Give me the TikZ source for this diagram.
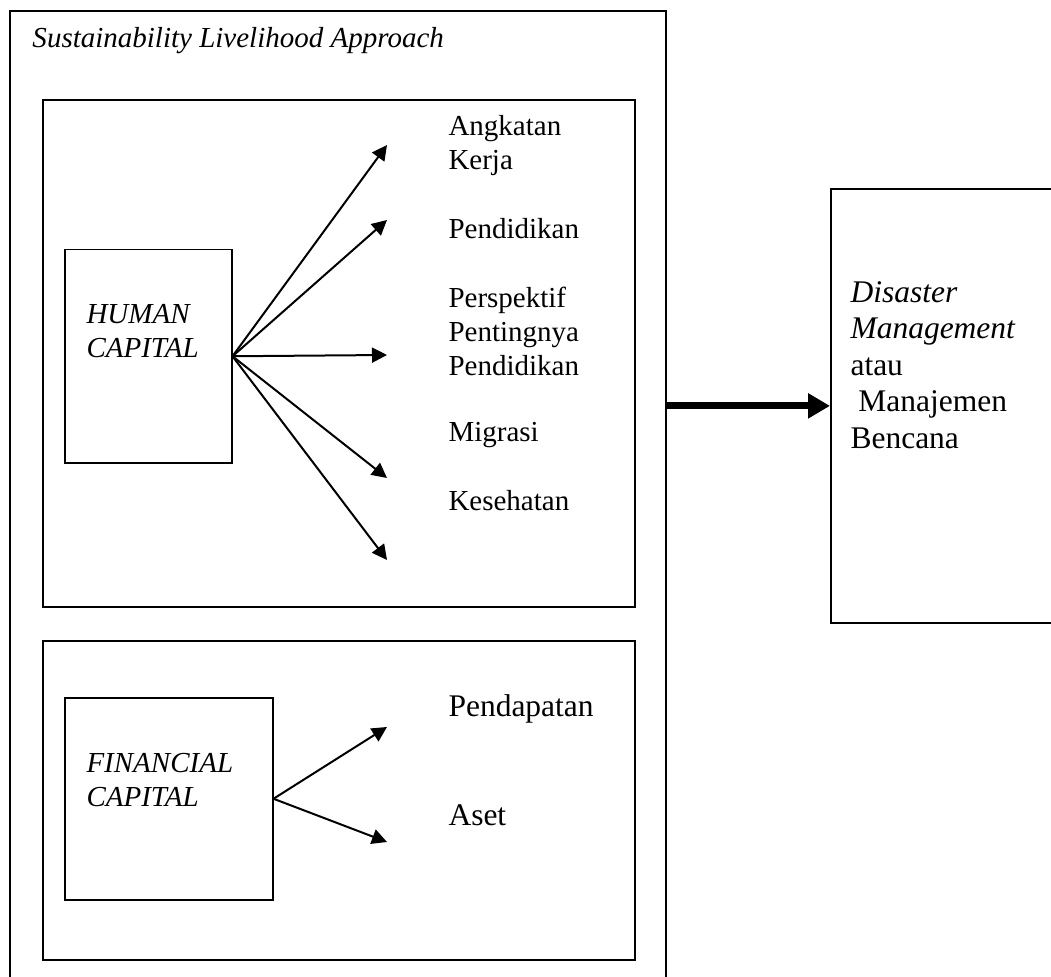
\documentclass[tikz,border=0pt]{standalone}
\usepackage{fontspec}
\setmainfont{Liberation Serif}
\usetikzlibrary{arrows.meta}

\begin{document}
\begin{tikzpicture}[x=0.4pt, y=-0.4pt,
    box/.style={draw, line width=0.7pt, inner sep=0pt, anchor=north west},
    lbl/.style={anchor=north west, inner sep=0pt, align=left, font=\fontsize{11.6}{13.6}\selectfont},
    biglbl/.style={anchor=north west, inner sep=0pt, align=left, font=\fontsize{12.6}{14.6}\selectfont},
    arr/.style={-{Triangle[length=6pt, width=6pt]}, line width=0.8pt},
    thickarr/.style={-{Triangle[length=8.8pt, width=9.6pt]}, line width=2.8pt}]
    \useasboundingbox (0,0) rectangle (1051,977);

    \node[box, minimum width=262.4pt, minimum height=396pt] (frame) at (9,10) {};
    \node[lbl, font=\fontsize{11.6}{13.6}\selectfont\itshape] (sla) at (32,27) {Sustainability Livelihood Approach};

    \node[box, minimum width=236.8pt, minimum height=202.8pt] (humanbox) at (42,99) {};
    \node[box, minimum width=236.8pt, minimum height=127.6pt] (finbox) at (42,640) {};

    \node[box, line width=0.6pt, minimum width=66.8pt, minimum height=85.2pt] (hc) at (64,249) {};
    \node[lbl, font=\fontsize{11.6}{13.6}\selectfont\itshape] (hclbl) at (86,304) {HUMAN\\CAPITAL};
    \node[box, line width=0.6pt, minimum width=83.2pt, minimum height=80.8pt] (fc) at (64,697) {};
    \node[lbl, font=\fontsize{11.6}{13.6}\selectfont\itshape] (fclbl) at (86,753) {FINANCIAL\\CAPITAL};

    \node[lbl] (kerja) at (448,115) {Angkatan\\Kerja};
    \node[lbl] (didik) at (448,218) {Pendidikan};
    \node[lbl] (persp) at (448,287) {Perspektif\\Pentingnya\\Pendidikan};
    \node[lbl] (migrasi) at (448,422) {Migrasi};
    \node[lbl] (sehat) at (448,490) {Kesehatan};

    \node[biglbl] (dapat) at (448,694) {Pendapatan};
    \node[biglbl] (aset) at (448,804) {Aset};

    \node[box, minimum width=96pt, minimum height=173.6pt] (dm) at (830,188) {};
    \node[biglbl] (dmlbl) at (850,281) {\textit{Disaster}\\\textit{Management}\\atau\\~Manajemen\\Bencana};

    \coordinate (h1) at (387,145);
    \coordinate (h2) at (387,220);
    \coordinate (h3) at (387,355);
    \coordinate (h4) at (387,478);
    \coordinate (h5) at (387,560);
    \coordinate (f1) at (387,727);
    \coordinate (f2) at (387,842);

    \foreach \tip in {h1,h2,h3,h4,h5}
        \draw[arr] (hc.east) -- (\tip);
    \foreach \tip in {f1,f2}
        \draw[arr] (fc.east) -- (\tip);

    \draw[thickarr] (frame.east |- dm.west) -- (dm.west);
\end{tikzpicture}
\end{document}
